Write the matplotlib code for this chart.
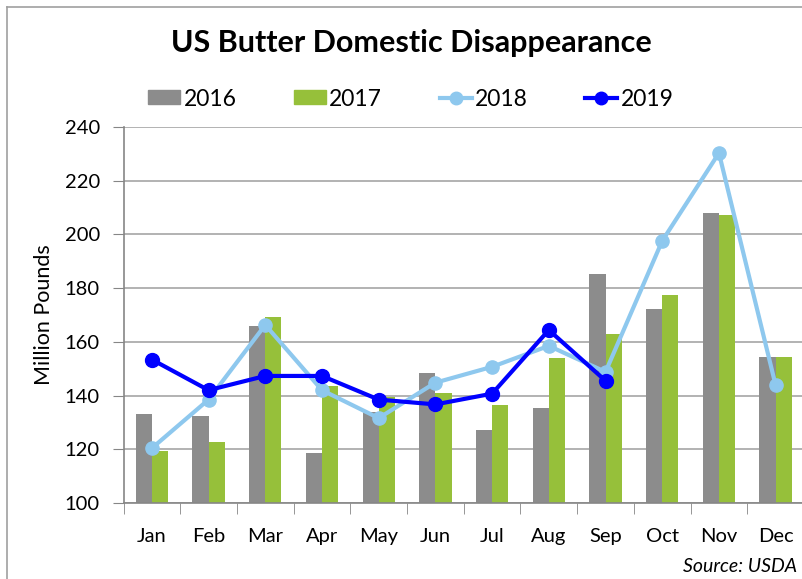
import matplotlib
matplotlib.use("Agg")
import matplotlib.pyplot as plt
from matplotlib.lines import Line2D
from matplotlib.patches import Patch
import numpy as np

plt.rcParams['font.family'] = ['Lato', 'DejaVu Sans']

months = ['Jan', 'Feb', 'Mar', 'Apr', 'May', 'Jun', 'Jul', 'Aug', 'Sep', 'Oct', 'Nov', 'Dec']
v2016 = [133.1, 132.3, 165.8, 118.7, 133.9, 148.3, 127.0, 135.2, 185.3, 172.2, 207.8, 154.3]
v2017 = [119.2, 122.7, 169.2, 143.6, 139.5, 140.8, 136.6, 154.0, 162.8, 177.5, 207.1, 154.3]
v2018 = [120.4, 138.5, 166.3, 142.0, 131.6, 144.8, 150.7, 158.5, 148.8, 197.6, 230.3, 143.8]
v2019 = [153.4, 142.0, 147.3, 147.3, 138.5, 136.7, 140.7, 164.4, 145.5]

c2016 = '#8c8c8c'
c2017 = '#96c03a'
c2018 = '#8ec8ee'
c2019 = '#0000ff'
grid_c = '#a6a6a6'

fig = plt.figure(figsize=(8.02, 5.79), dpi=100)
ax = fig.add_axes([0.154, 0.1313, 0.8485, 0.6494])

x = np.arange(len(months))
w = 0.285
ax.bar(x - w / 2, v2016, width=w, color=c2016, zorder=2)
ax.bar(x + w / 2, v2017, width=w, color=c2017, zorder=2)
ax.plot(x, v2018, color=c2018, lw=3, marker='o', ms=9.5, zorder=3)
ax.plot(x[:len(v2019)], v2019, color=c2019, lw=3, marker='o', ms=10, zorder=4)

ax.set_xlim(-0.5, 11.5)
ax.set_ylim(100, 240)
ax.set_yticks(range(100, 241, 20))
ax.yaxis.grid(True, color=grid_c, lw=1.2, zorder=0)
ax.set_axisbelow(True)

ax.set_xticks(x)
ax.set_xticklabels(months, fontsize=14.5)
ax.set_xticks(np.arange(-0.5, 12, 1), minor=True)
ax.tick_params(axis='x', which='major', length=0, pad=18)
ax.tick_params(axis='x', which='minor', length=8, color='#868686', direction='out')
ax.tick_params(axis='y', length=8, color='#868686', labelsize=14.5, pad=9)

for s in ['top', 'right']:
    ax.spines[s].set_visible(False)
for s in ['left', 'bottom']:
    ax.spines[s].set_color('#868686')
    ax.spines[s].set_linewidth(1.2)

ax.set_ylabel('Million Pounds', fontsize=15.5, labelpad=8)

fig.text(0.5125, 0.926, 'US Butter Domestic Disappearance', ha='center', va='center',
         fontsize=22, fontweight='bold')

handles = [
    Patch(color=c2016),
    Patch(color=c2017),
    Line2D([], [], color=c2018, lw=3, marker='o', ms=9),
    Line2D([], [], color=c2019, lw=3, marker='o', ms=9),
]
fig.legend(handles, ['2016', '2017', '2018', '2019'], loc='center left',
           bbox_to_anchor=(148 / 802, 0.829), ncol=4, frameon=False, fontsize=16.5,
           handlelength=1.4, handleheight=0.55, handletextpad=0.15, columnspacing=2.5,
           borderpad=0, borderaxespad=0)

fig.text(0.994, 0.022, 'Source: USDA', ha='right', va='center', fontsize=14,
         style='italic')

# chart frame (left and top edges visible)
fig.add_artist(Line2D([7 / 802, 7 / 802], [0, 1 - 7 / 579], color='#a0a0a0', lw=1.2,
                      transform=fig.transFigure))
fig.add_artist(Line2D([7 / 802, 1], [1 - 7 / 579, 1 - 7 / 579], color='#a0a0a0', lw=1.2,
                      transform=fig.transFigure))

fig.savefig('out.png', dpi=100)
